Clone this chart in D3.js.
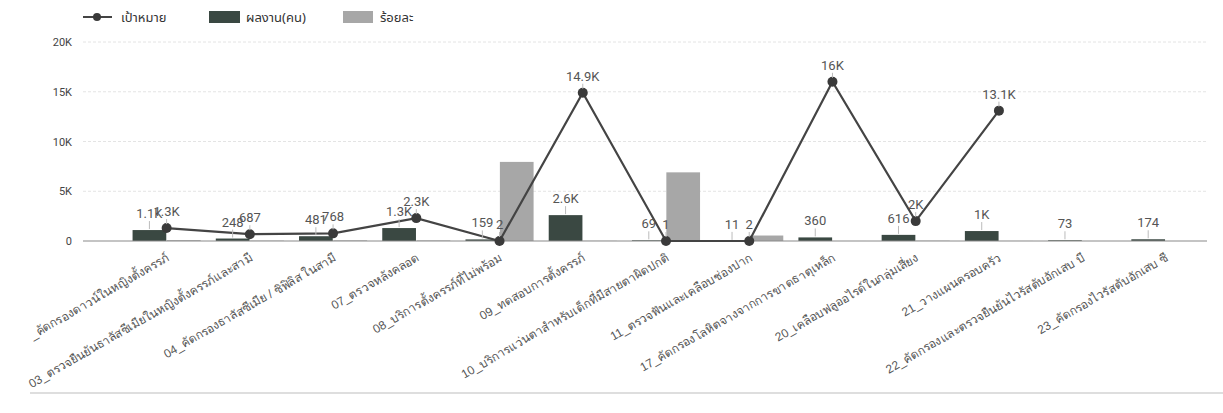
<!DOCTYPE html>
<html>
<head>
<meta charset="utf-8">
<script src="https://cdn.jsdelivr.net/npm/d3@7"></script>
<style>
  html, body { margin: 0; padding: 0; background: #fff; }
  svg { display: block; font-family: "Noto Sans", "Noto Sans Thai", "Loma", "Garuda", sans-serif; }
</style>
</head>
<body>
<svg id="chart" width="1223" height="413"></svg>
<script>
// ---- data ----
const categories = [
  "_คัดกรองดาวน์ในหญิงตั้งครรภ์",
  "03_ตรวจยืนยันธาลัสซีเมียในหญิงตั้งครรภ์และสามี",
  "04_คัดกรองธาลัสซีเมีย / ซิฟิลิส ในสามี",
  "07_ตรวจหลังคลอด",
  "08_บริการตั้งครรภ์ที่ไม่พร้อม",
  "09_ทดสอบการตั้งครรภ์",
  "10_บริการแว่นตาสำหรับเด็กที่มีสายตาผิดปกติ",
  "11_ตรวจฟันและเคลือบช่องปาก",
  "17_คัดกรองโลหิตจางจากการขาดธาตุเหล็ก",
  "20_เคลือบฟลูออไรด์ในกลุ่มเสี่ยง",
  "21_วางแผนครอบครัว",
  "22_คัดกรองและตรวจยืนยันไวรัสตับอักเสบ บี",
  "23_คัดกรองไวรัสตับอักเสบ ซี"
];
const targetValues = [1300, 687, 768, 2300, 2, 14900, 1, 2, 16000, 2000, 13100, null, null];
const resultValues = [1100, 248, 481, 1300, 159, 2600, 69, 11, 360, 616, 1000, 73, 174];
const percentValues = [84.6, 36.1, 62.6, 56.5, 7950, 17.4, 6900, 550, 2.3, 30.8, 7.6, null, null];
const yTicks = [0, 5000, 10000, 15000, 20000];
const seriesNames = ["เป้าหมาย", "ผลงาน(คน)", "ร้อยละ"];

// ---- layout ----
const svg = d3.select("#chart");
const plotLeft = 83, plotRight = 1207;
const colorLine = "#444444", colorDark = "#3a4842", colorGrey = "#a7a7a7";

const x = d3.scaleBand().domain(categories).range([125, 1207]).paddingInner(0).paddingOuter(0);
const inner = d3.scaleBand().domain([seriesNames[1], seriesNames[2]])
  .range([0, x.bandwidth()]).paddingInner(0.02).paddingOuter(0.22);
const y = d3.scaleLinear().domain([0, 20000]).range([241, 42]);
const fmt = v => d3.format(".3~s")(v).replace("k", "K");
const fmtAxis = v => v === 0 ? "0" : d3.format("~s")(v).replace("k", "K");

// gridlines
svg.append("g").selectAll("line").data(yTicks.filter(d => d > 0)).join("line")
  .attr("x1", plotLeft).attr("x2", plotRight)
  .attr("y1", d => y(d)).attr("y2", d => y(d))
  .attr("stroke", "#e4e4e4").attr("stroke-width", 1).attr("stroke-dasharray", "3,2");

// y axis labels
const yAxis = d3.axisLeft(y).tickValues(yTicks).tickFormat(fmtAxis).tickSize(0).tickPadding(0);
const gy = svg.append("g").attr("transform", "translate(72,0)").call(yAxis);
gy.select(".domain").remove();
gy.selectAll("text").attr("font-size", 11).attr("fill", "#444").attr("font-family", "Roboto, sans-serif");

// bars: results
const g = svg.append("g");
g.selectAll("rect.res").data(categories).join("rect").attr("class", "res")
  .attr("x", (d) => x(d) + inner(seriesNames[1]))
  .attr("width", inner.bandwidth())
  .attr("y", (d, i) => y(resultValues[i]))
  .attr("height", (d, i) => y(0) - y(resultValues[i]))
  .attr("fill", colorDark);
// bars: percent
g.selectAll("rect.pct").data(categories).join("rect").attr("class", "pct")
  .attr("x", (d) => x(d) + inner(seriesNames[2]))
  .attr("width", inner.bandwidth())
  .attr("y", (d, i) => y(percentValues[i] || 0))
  .attr("height", (d, i) => y(0) - y(percentValues[i] || 0))
  .attr("fill", colorGrey);

// zero line
svg.append("line").attr("x1", plotLeft).attr("x2", plotRight)
  .attr("y1", y(0)).attr("y2", y(0)).attr("stroke", "#8a8a8a").attr("stroke-width", 1.2);

// line: target
const cx = d => x(d) + x.bandwidth() / 2;
const line = d3.line()
  .defined((d, i) => targetValues[i] != null)
  .x(d => cx(d))
  .y((d, i) => y(targetValues[i]));
svg.append("path").datum(categories).attr("d", line)
  .attr("fill", "none").attr("stroke", colorLine).attr("stroke-width", 2.2);
const pts = categories.map((c, i) => ({ c, v: targetValues[i] })).filter(d => d.v != null);
svg.append("g").selectAll("circle").data(pts).join("circle")
  .attr("cx", d => cx(d.c)).attr("cy", d => y(d.v)).attr("r", 5).attr("fill", "#3a3a3a");

// data labels: results
const lbl = svg.append("g").attr("font-size", 13).attr("fill", "#555").attr("font-family", "Roboto, sans-serif");
categories.forEach((c, i) => {
  const bx = x(c) + inner(seriesNames[1]) + inner.bandwidth() / 2;
  const top = y(resultValues[i]);
  lbl.append("line").attr("x1", bx).attr("x2", bx).attr("y1", top - 1).attr("y2", top - 9)
    .attr("stroke", "#bbb").attr("stroke-width", 1);
  lbl.append("text").attr("x", bx).attr("y", top - 12).attr("text-anchor", "middle")
    .text(fmt(resultValues[i]));
});
// data labels: target
pts.forEach(d => {
  const px = cx(d.c), py = y(d.v);
  lbl.append("line").attr("x1", px).attr("x2", px).attr("y1", py - 4).attr("y2", py - 9)
    .attr("stroke", "#bbb").attr("stroke-width", 1);
  lbl.append("text").attr("x", px).attr("y", py - 12).attr("text-anchor", "middle")
    .text(fmt(d.v));
});

// x axis labels
const xAxis = d3.axisBottom(x).tickSize(0).tickPadding(0);
const gx = svg.append("g").attr("transform", "translate(0,254)").call(xAxis);
gx.select(".domain").remove();
gx.selectAll("text")
  .attr("font-size", 12).attr("fill", "#555")
  .attr("text-anchor", "end").attr("dy", "0.6em").attr("dx", "0")
  .attr("transform", "rotate(-30)");

// bottom border
svg.append("line").attr("x1", 30).attr("x2", 1223).attr("y1", 393).attr("y2", 393)
  .attr("stroke", "#bdbdbd").attr("stroke-width", 1.2);

// legend
const leg = svg.append("g").attr("font-size", 13).attr("fill", "#333");
leg.append("line").attr("x1", 83).attr("x2", 112).attr("y1", 17).attr("y2", 17)
  .attr("stroke", colorLine).attr("stroke-width", 2);
leg.append("circle").attr("cx", 97).attr("cy", 17).attr("r", 4).attr("fill", "#3a3a3a");
leg.append("text").attr("x", 121).attr("y", 17).attr("dy", "0.35em").text(seriesNames[0]);
leg.append("rect").attr("x", 209).attr("y", 11).attr("width", 31).attr("height", 12).attr("fill", colorDark);
leg.append("text").attr("x", 246).attr("y", 17).attr("dy", "0.35em").text(seriesNames[1]);
leg.append("rect").attr("x", 343).attr("y", 11).attr("width", 30).attr("height", 12).attr("fill", colorGrey);
leg.append("text").attr("x", 380).attr("y", 17).attr("dy", "0.35em").text(seriesNames[2]);
</script>
</body>
</html>
